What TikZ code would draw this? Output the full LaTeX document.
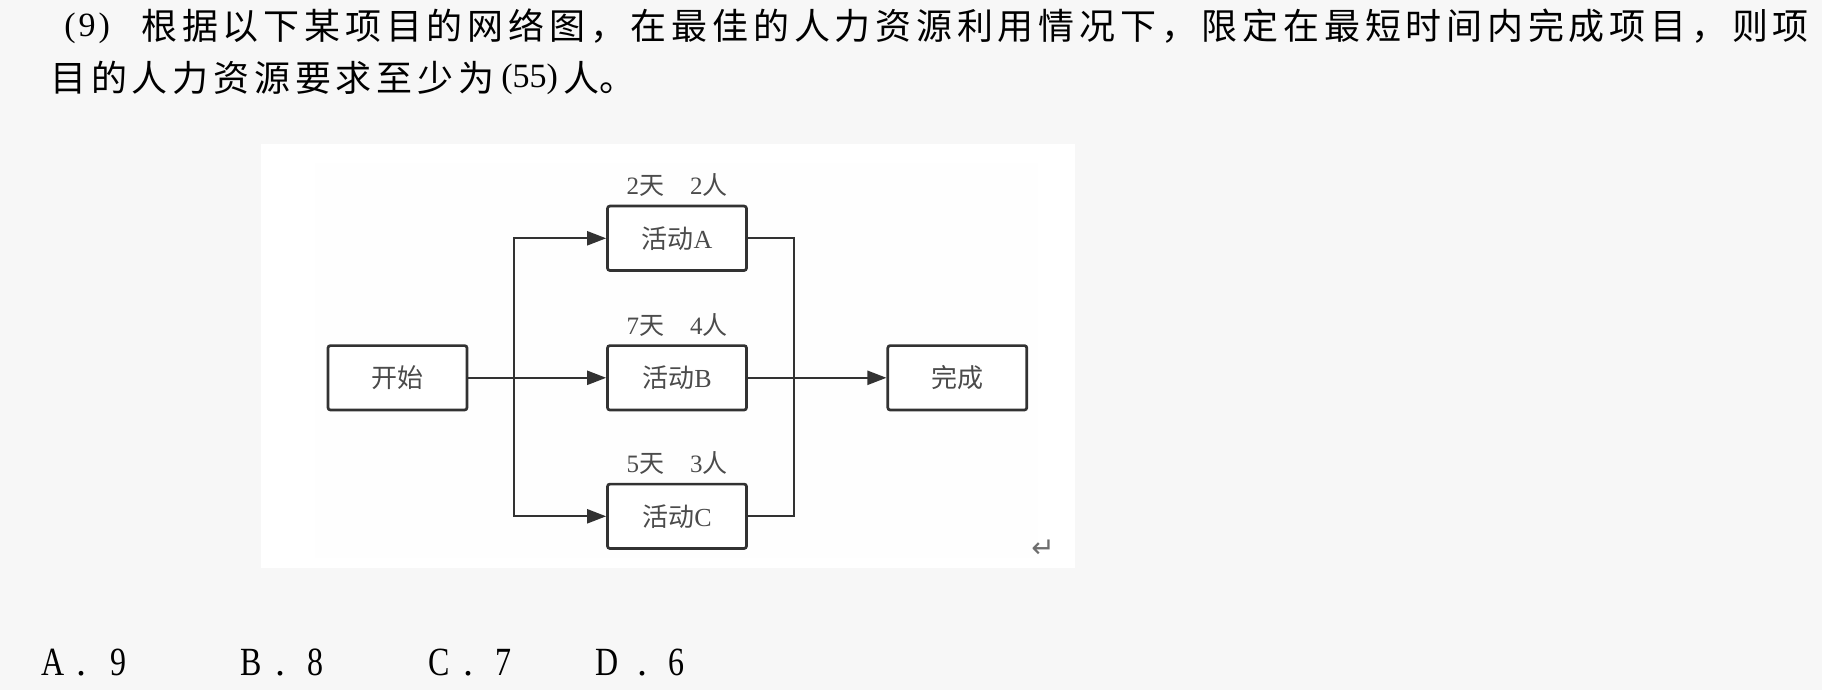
\documentclass[tikz,border=0pt]{standalone}
\usepackage{fontspec}
\setmainfont{Liberation Serif}
\newfontfamily\cjk{Noto Sans CJK SC}
\newfontfamily\cjksp{Noto Sans CJK SC}[LetterSpace=13.3]
\newfontfamily\optfont{Liberation Serif}[FakeStretch=0.8]
\newfontfamily\symfont{DejaVu Sans}
\usetikzlibrary{arrows.meta}
\definecolor{pagebg}{RGB}{247,247,247}
\definecolor{innerbg}{RGB}{254,254,254}
\definecolor{lineink}{RGB}{50,50,50}
\definecolor{dtext}{RGB}{75,75,75}
\definecolor{marker}{RGB}{110,110,110}
\begin{document}
\begin{tikzpicture}[x=0.5pt,y=-0.5pt,
  txt/.style={inner sep=0pt, text=black},
  box/.style={draw=lineink, line width=1.35pt, rounded corners=1.2pt, minimum width=69.5pt, minimum height=32.2pt, inner sep=0pt, text=dtext, font=\fontsize{13}{13}\selectfont, fill=white},
  lbl/.style={inner sep=0pt, text=dtext, font=\fontsize{12.5}{12.5}\selectfont},
  conn/.style={draw=lineink, line width=1.1pt},
  arr/.style={conn, -{Triangle[length=9.5pt,width=7pt]}},
]
\fill[pagebg] (0,0) rectangle (1822,690);
\fill[white] (261,144) rectangle (1075,568);
\fill[innerbg] (315,163) rectangle (1038,558);
\useasboundingbox (0,0) rectangle (1822,690);

% question text
\node[txt, anchor=base west, font=\fontsize{17}{17}\selectfont] (q9) at (64,36.5) {(\kern1.5pt 9\kern1.5pt)};
\node[txt, anchor=west, font=\cjksp\fontsize{18}{18}\selectfont] (l1) at (141,26.5) {根据以下某项目的网络图，在最佳的人力资源利用情况下，限定在最短时间内完成项目，则项};
\node[txt, anchor=west, font=\cjksp\fontsize{18}{18}\selectfont] (l2a) at (50,77.5) {目的人力资源要求至少为};
\node[txt, anchor=base west, font=\fontsize{17}{17}\selectfont] (n55) at (501,88) {(55)};
\node[txt, anchor=west, font=\cjk\fontsize{18}{18}\selectfont] (l2b) at (563,77.5) {人。};

% diagram
\node[box] (start) at (397.5,377.8) {{\cjk 开始}};
\node[box] (A) at (677,238.3) {{\cjk 活动}A};
\node[box] (B) at (677,377.8) {{\cjk 活动}B};
\node[box] (C) at (677,516.3) {{\cjk 活动}C};
\node[box] (done) at (957.3,377.8) {{\cjk 完成}};

\node[lbl] (la) at ([yshift=9.75pt]A.north) {2{\cjk 天}\hspace{13pt}2{\cjk 人}};
\node[lbl] (lb) at ([yshift=9.75pt]B.north) {7{\cjk 天}\hspace{13pt}4{\cjk 人}};
\node[lbl] (lc) at ([yshift=9.75pt]C.north) {5{\cjk 天}\hspace{13pt}3{\cjk 人}};

\coordinate (jl) at (514,377.8);
\coordinate (jr) at (794,377.8);
\draw[conn] (start.east) -- (jl);
\draw[arr] (jl) -- (B.west);
\draw[arr] (jl) |- (A.west);
\draw[arr] (jl) |- (C.west);
\draw[conn] (A.east) -| (jr);
\draw[conn] (C.east) -| (jr);
\draw[arr] (B.east) -- (done.west);

\node[inner sep=0pt, text=marker, font=\symfont\fontsize{14}{14}\selectfont] (ret) at (1043,549) {↵};

% options
\foreach \L/\xa/\xd/\xg/\N in {A/41/76/110/9, B/240/275/307/8, C/428/463/495/7, D/595/637/668/6} {
  \node[txt, anchor=base west, font=\optfont\fontsize{20}{20}\selectfont] (opt\L) at (\xa,675) {\L};
  \node[txt, anchor=base west, font=\fontsize{20}{20}\selectfont] (opt\L dot) at (\xd,675) {.};
  \node[txt, anchor=base west, font=\optfont\fontsize{20}{20}\selectfont] (opt\L num) at (\xg,675) {\N};
}
\end{tikzpicture}
\end{document}
